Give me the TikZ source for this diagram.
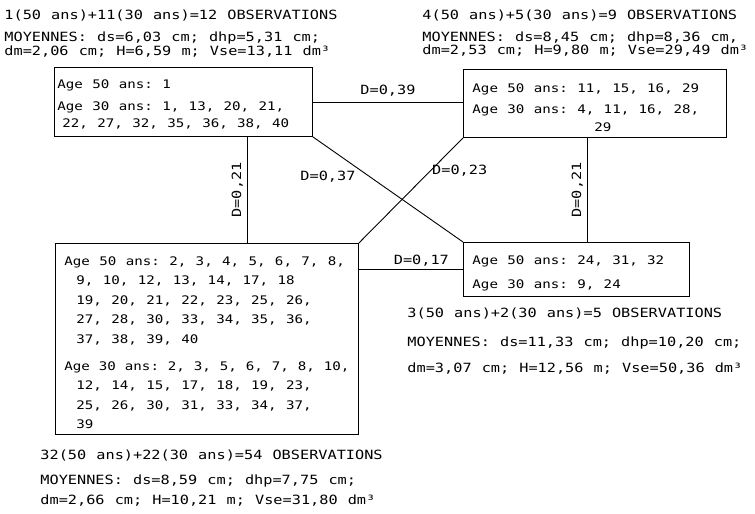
\documentclass[tikz,border=0pt]{standalone}
\usepackage{fontspec}
\newfontfamily\plotfont[FakeStretch=1.2, WordSpace=1.1]{DejaVu Sans Mono}
\newcommand\boxsize[1]{\plotfont\fontsize{11.8}{#1}\selectfont\frenchspacing}
\newcommand\obssize{\plotfont\fontsize{12.7}{14}\selectfont}
% one line of a group box, left aligned
\newcommand\grpline[1]{\hbox to\hsize{#1\hfil}}
\usetikzlibrary{calc}

\begin{document}
\begin{tikzpicture}[x=1pt, y=-1pt, line width=0.9pt,
    grp/.style={draw, rectangle, anchor=north west, inner ysep=0pt, font=\boxsize{19.5}},
    obs/.style={anchor=base west, inner sep=0pt, font=\obssize},
    dist/.style={inner sep=2pt, font=\obssize}]
  \useasboundingbox (0,0) rectangle (755,514);

  % groups of trees (ages 50 and 30)
  \node[grp, inner xsep=3pt, text height=21pt, text depth=48pt, font=\boxsize{17}] (A) at (54,67)
    {\vtop{\hsize=252pt
      \grpline{Age 50 ans: 1}\vskip5pt
      \grpline{Age 30 ans: 1, 13, 20, 21,}
      \grpline{\hspace*{5pt}22, 27, 32, 35, 36, 38, 40}}};
  \node[grp, inner xsep=9pt, text height=22.6pt, text depth=45.4pt, font=\boxsize{18}] (B) at (463,69)
    {\vtop{\hsize=245pt
      \grpline{Age 50 ans: 11, 15, 16, 29}\vskip3pt
      \grpline{Age 30 ans: 4, 11, 16, 28,}
      \grpline{\hspace*{122pt}29}}};
  \node[grp, inner xsep=9pt, text height=21.6pt, text depth=169.4pt] (C) at (55,243)
    {\vtop{\hsize=285pt
      \grpline{Age 50 ans: 2, 3, 4, 5, 6, 7, 8,}
      \grpline{\hspace*{12pt}9, 10, 12, 13, 14, 17, 18}
      \grpline{\hspace*{12pt}19, 20, 21, 22, 23, 25, 26,}
      \grpline{\hspace*{12pt}27, 28, 30, 33, 34, 35, 36,}
      \grpline{\hspace*{12pt}37, 38, 39, 40}\vskip7.5pt
      \grpline{Age 30 ans: 2, 3, 5, 6, 7, 8, 10,}
      \grpline{\hspace*{12pt}12, 14, 15, 17, 18, 19, 23,}
      \grpline{\hspace*{12pt}25, 26, 30, 31, 33, 34, 37,}
      \grpline{\hspace*{12pt}39}}};
  \node[grp, inner xsep=9pt, text height=21.6pt, text depth=32.4pt, font=\boxsize{24}] (D) at (463,242)
    {\vtop{\hsize=208pt
      \grpline{Age 50 ans: 24, 31, 32}
      \grpline{Age 30 ans: 9, 24}}};

  % distances between groups
  \draw (A.east) -- (A.east -| B.west) node[dist, midway, above=3pt] {D=0,39};
  \draw ([xshift=64pt]A.south) -- ([xshift=64pt]A.south |- C.north)
    node[dist, midway, rotate=90, above=2pt] {D=0,21};
  \draw ([xshift=-7.5pt]B.south) -- ([xshift=-7.5pt]B.south |- D.north)
    node[dist, midway, rotate=90, above=2pt] {D=0,21};
  \draw (A.south east) -- (D.north west) node[dist, pos=0.3, anchor=north east] {D=0,37};
  \draw (B.south west) -- (C.north east) node[dist, pos=0.31, anchor=west, inner sep=1pt] {D=0,23};
  \draw (D.west) -- (D.west -| C.east) node[dist, pos=0.4, above=1pt] {D=0,17};

  % number of observations and means
  \node[obs] (nA) at (4,19.6) {1(50 ans)+11(30 ans)=12 OBSERVATIONS};
  \node[obs] (mA) at (4,41.6) {MOYENNES: ds=6,03 cm; dhp=5,31 cm;};
  \node[obs] (vA) at (4,55.6) {dm=2,06 cm; H=6,59 m; Vse=13,11 dm³};

  \node[obs] (nB) at (422,19.6) {4(50 ans)+5(30 ans)=9 OBSERVATIONS};
  \node[obs] (mB) at (422,41.6) {MOYENNES: ds=8,45 cm; dhp=8,36 cm,};
  \node[obs] (vB) at (422,54.6) {dm=2,53 cm; H=9,80 m; Vse=29,49 dm³};

  \node[obs] (nD) at (407,317.6) {3(50 ans)+2(30 ans)=5 OBSERVATIONS};
  \node[obs] (mD) at (407,346.6) {MOYENNES: ds=11,33 cm; dhp=10,20 cm;};
  \node[obs] (vD) at (407,372.6) {dm=3,07 cm; H=12,56 m; Vse=50,36 dm³};

  \node[obs] (nC) at (40,459.6) {32(50 ans)+22(30 ans)=54 OBSERVATIONS};
  \node[obs] (mC) at (40,484.6) {MOYENNES: ds=8,59 cm; dhp=7,75 cm;};
  \node[obs] (vC) at (40,504.6) {dm=2,66 cm; H=10,21 m; Vse=31,80 dm³};
\end{tikzpicture}
\end{document}
